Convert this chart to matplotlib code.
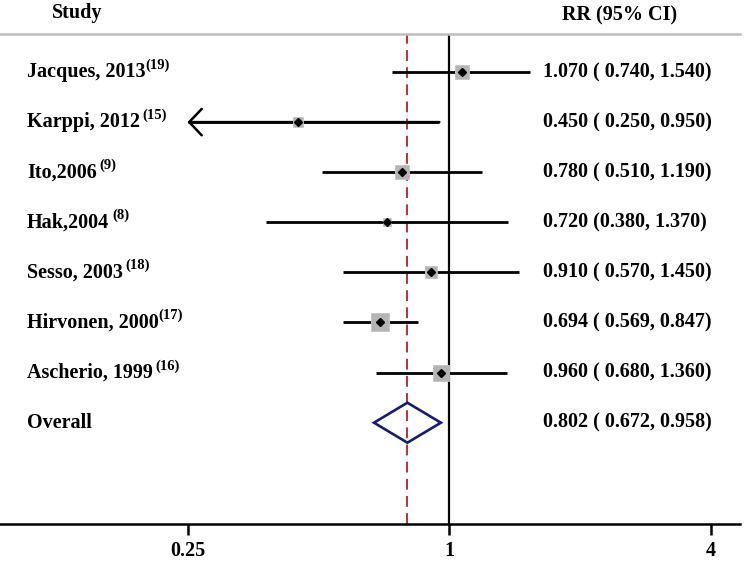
import numpy as np
import matplotlib
matplotlib.use("Agg")
import matplotlib.pyplot as plt
from matplotlib.patches import FancyArrowPatch, Polygon

# ---- data ----
studies = ["Jacques, 2013", "Karppi, 2012", "Ito,2006", "Hak,2004",
           "Sesso, 2003", "Hirvonen, 2000", "Ascherio, 1999"]
refs = ["(19)", "(15)", "(9)", "(8)", "(18)", "(17)", "(16)"]
rr = [1.070, 0.450, 0.780, 0.720, 0.910, 0.694, 0.960]
lo = [0.740, 0.250, 0.510, 0.380, 0.570, 0.569, 0.680]
hi = [1.540, 0.950, 1.190, 1.370, 1.450, 0.847, 1.360]
ci_text = ["1.070 ( 0.740, 1.540)", "0.450 ( 0.250, 0.950)", "0.780 ( 0.510, 1.190)",
           "0.720 (0.380, 1.370)", "0.910 ( 0.570, 1.450)", "0.694 ( 0.569, 0.847)",
           "0.960 ( 0.680, 1.360)"]
weights = [16.3, 6.7, 14.0, 5.3, 12.0, 26.9, 18.7]
arrow_left = [False, True, False, False, False, False, False]
overall_label = "Overall"
overall = (0.802, 0.672, 0.958)
overall_text = "0.802 ( 0.672, 0.958)"
xticks = [0.25, 1, 4]
xticklabels = ["0.25", "1", "4"]

FONT = "Liberation Serif"
FS = 14.5
sup_gap = [0.0, 2.0, 2.0, 2.0, 2.0, 0.0, 2.0]
W, H = 746, 562
fig = plt.figure(figsize=(W / 100, H / 100), dpi=100)
# axes: x from px 0..740, y from px 34 (top line) .. 524 (axis)
ax = fig.add_axes([0, (H - 524) / H, 740 / W, (524 - 34) / H])
ax.set_xscale("log")
px1, ppf = 449.0, 261.5  # pixel of x=1, pixels per factor 4
ax.set_xlim(4 ** ((0 - px1) / ppf), 4 ** ((740 - px1) / ppf))
row0, step = 72.0, 50.1
ax.set_ylim((524 - row0) / step, (34 - row0) / step)

for s in ["left", "right"]:
    ax.spines[s].set_visible(False)
ax.spines["top"].set_color("#bdbdbd")
ax.spines["top"].set_linewidth(1.8)
ax.spines["bottom"].set_linewidth(1.8)
ax.set_yticks([])
ax.set_xticks(xticks)
ax.set_xticklabels(xticklabels, fontfamily=FONT, fontweight="bold", fontsize=FS)
ax.xaxis.set_minor_locator(matplotlib.ticker.NullLocator())
ax.tick_params(axis="x", length=8, width=1.8, pad=4)

ax.axvline(1, color="black", lw=1.6, zorder=1)
ax.axvline(overall[0], color="#b22222", lw=1.3, ls=(0, (6, 3.5)), zorder=1)

for i in range(len(studies)):
    y = i
    ax.plot([lo[i], hi[i]], [y, y], color="black", lw=2.0, zorder=2,
            solid_capstyle="butt")
    if arrow_left[i]:
        arr = FancyArrowPatch((hi[i], y), (lo[i], y),
                              arrowstyle="->,head_length=9,head_width=9.5",
                              mutation_scale=1, lw=1.8, color="black",
                              shrinkA=0, shrinkB=0, zorder=2)
        ax.add_patch(arr)
    side_px = 3.5 * np.sqrt(weights[i])
    ax.plot(rr[i], y, marker="s", ms=side_px * 0.72, mfc="#b4b4b4", mec="#c4c4c4",
            mew=0.6, zorder=3, ls="none")
    ax.plot(rr[i], y, marker="D", ms=3.8, color="black", zorder=4, ls="none")
    t = ax.text(27 / 740, y, studies[i], transform=ax.get_yaxis_transform(),
                fontfamily=FONT, fontweight="bold", fontsize=FS, va="center",
                ha="left")
    ax.annotate(refs[i], xy=(1, 0.5), xycoords=t, xytext=(sup_gap[i], 0),
                textcoords="offset points", fontfamily=FONT, fontweight="bold",
                fontsize=10.5, va="bottom", ha="left")
    ax.text(543 / 740, y, ci_text[i], transform=ax.get_yaxis_transform(),
            fontfamily=FONT, fontweight="bold", fontsize=FS, va="center", ha="left")

# overall diamond
yo = len(studies)
hh = 20 / step
dia = Polygon([(overall[1], yo), (overall[0], yo - hh), (overall[2], yo),
               (overall[0], yo + hh)], closed=True, fill=False,
              edgecolor="#1a1a72", lw=1.9, zorder=3)
ax.add_patch(dia)
ax.text(27 / 740, yo, overall_label, transform=ax.get_yaxis_transform(),
        fontfamily=FONT, fontweight="bold", fontsize=FS, va="center", ha="left")
ax.text(543 / 740, yo, overall_text, transform=ax.get_yaxis_transform(),
        fontfamily=FONT, fontweight="bold", fontsize=FS, va="center", ha="left")

# headers
fig.text(52 / W, 1 - 13 / H, "Study", fontfamily=FONT, fontweight="bold",
         fontsize=FS, va="center", ha="left")
fig.text(620 / W, 1 - 15 / H, "RR (95% CI)", fontfamily=FONT, fontweight="bold",
         fontsize=FS, va="center", ha="center")

fig.savefig("out.png", dpi=100)
